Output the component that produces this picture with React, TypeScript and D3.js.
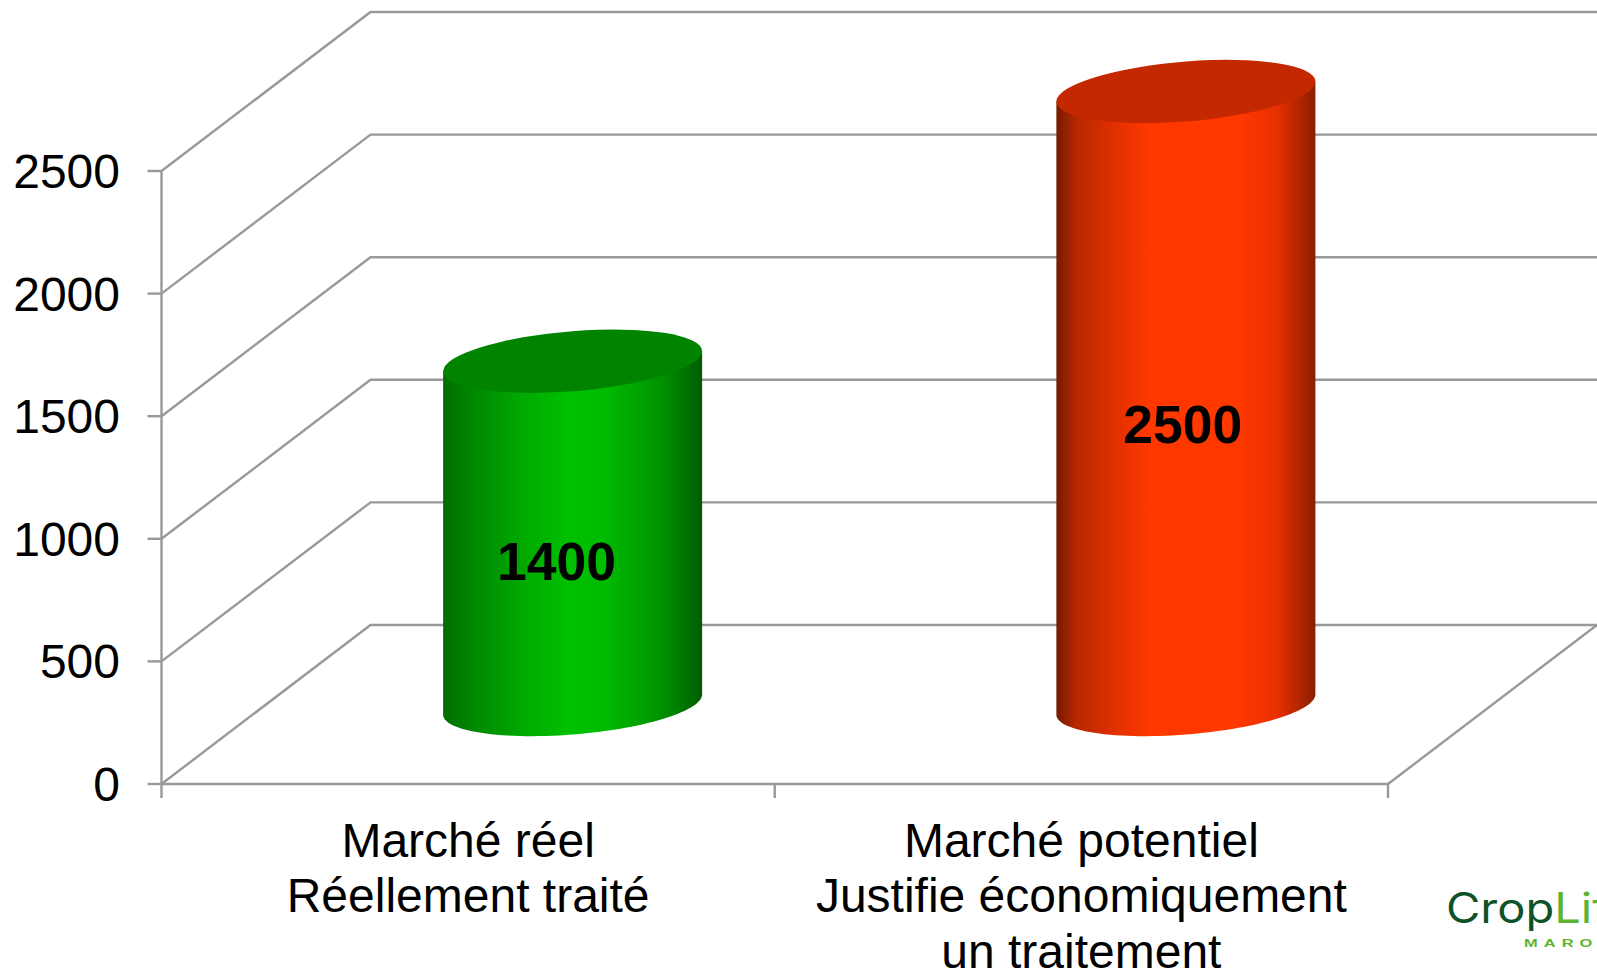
import React from "react";
import * as d3 from "d3";

const categories = [["Marché réel", "Réellement traité"], ["Marché potentiel", "Justifie économiquement", "un traitement"]];
const values = [1400, 2500];
const yTicks = [0, 500, 1000, 1500, 2000, 2500];
const barColors = [
  {
    id: "greenBody",
    top: "#008400",
    stops: ["#006e00", "#008c00", "#00a800", "#00c000", "#00bc00", "#009000", "#005c00"],
    offsets: [0, 0.14, 0.3, 0.48, 0.62, 0.85, 1],
  },
  {
    id: "redBody",
    top: "#c42800",
    stops: ["#751a00", "#b82800", "#e03000", "#ff3800", "#ff3800", "#e83000", "#8a1e00"],
    offsets: [0, 0.08, 0.22, 0.36, 0.7, 0.85, 1],
  },
];

const width = 1597;
const height = 973;
const depthX = 209;
const depthY = -159;
const gridColor = "#999999";

const x = d3.scaleBand<number>().domain([0, 1]).range([161.5, 1388]);
const y = d3.scaleLinear().domain([0, 2500]).range([784, 171]);

const barWidth = 259;
const tilt = -0.078;
const ry = 30;
const labelShift = [-16, -3];
const labelY = [580, 443];

// cylinder side: left edge, bottom half of the base ellipse, right edge, top
function cylinderPath(cx: number, top: number, base: number) {
  const rx = barWidth / 2;
  const pts = d3.range(0, 181, 3).map((deg) => {
    const t = (deg * Math.PI) / 180;
    const dx = -rx * Math.cos(t);
    return [cx + dx, base + tilt * dx + ry * Math.sin(t)] as [number, number];
  });
  const line = d3.line();
  return `M${cx - rx},${top - tilt * rx}` + line(pts)!.replace("M", "L") + `L${cx + rx},${top + tilt * rx}Z`;
}

export default function App() {
  return (
    <svg width={width} height={height} style={{ position: "absolute", left: 0, top: 0, background: "#fff" }} fontFamily="'Liberation Sans', Arial, sans-serif">
      <defs>
        {barColors.map((c) => (
          <linearGradient key={c.id} id={c.id} x1="0" x2="1" y1="0" y2="0">
            {c.stops.map((s, i) => (
              <stop key={i} offset={c.offsets[i]} stopColor={s} />
            ))}
          </linearGradient>
        ))}
      </defs>

      {/* back wall and side wall */}
      <g fill="none" stroke={gridColor} strokeWidth={2.4}>
        {yTicks.map((t) => (
          <path key={t} d={`M${x.range()[0]},${y(t)}L${x.range()[0] + depthX},${y(t) + depthY}L${width},${y(t) + depthY}`} />
        ))}
        <path d={`M${x.range()[0]},${y(2500)}V${y(0)}H${x.range()[1]}`} />
        <path d={`M${x.range()[1]},${y(0)}L${x.range()[1] + depthX},${y(0) + depthY}`} />
        {yTicks.map((t) => (
          <path key={t} d={`M${x.range()[0] - 14},${y(t)}H${x.range()[0]}`} />
        ))}
        {[0, 1, 2].map((i) => {
          const px = x.range()[0] + i * x.step();
          return <path key={i} d={`M${px},${y(0)}v14`} />;
        })}
      </g>

      <g fontSize={48} fill="#000" textAnchor="end">
        {yTicks.map((t) => (
          <text key={t} x={120} y={y(t) + 17}>{t}</text>
        ))}
      </g>

      {values.map((v, i) => {
        const cx = x(i)! + x.bandwidth() / 2 + depthX / 2;
        const top = y(v) + depthY / 2;
        const base = y(0) + depthY / 2;
        const c = barColors[i];
        return (
          <g key={i}>
            <path d={cylinderPath(cx, top, base)} fill={`url(#${c.id})`} />
            <ellipse rx={barWidth / 2} ry={ry} transform={`matrix(1,${tilt},0,1,${cx},${top})`} fill={c.top} />
            <text x={cx + labelShift[i]} y={labelY[i]} textAnchor="middle" fontSize={53.5} fontWeight="bold" fill="#000">{v}</text>
          </g>
        );
      })}

      <g fontSize={48} fill="#000" textAnchor="middle">
        {categories.map((lines, i) =>
          lines.map((l, j) => (
            <text key={j} x={x(i)! + x.bandwidth() / 2} y={856.5 + j * 55.5}>{l}</text>
          ))
        )}
      </g>

      {/* logo, cut by the page edge as in the source */}
      <text transform="translate(1446,923) scale(1.12,1)" fontSize={42} fontWeight={400} fill="#0f5228" fontFamily="Inter, sans-serif">Crop<tspan fill="#5cb531">Life</tspan></text>
      <text transform="translate(1524,947) scale(1.5,1)" fontSize={11} fontWeight="bold" fill="#5cb531" letterSpacing={4}>MAROC</text>
    </svg>
  );
}
